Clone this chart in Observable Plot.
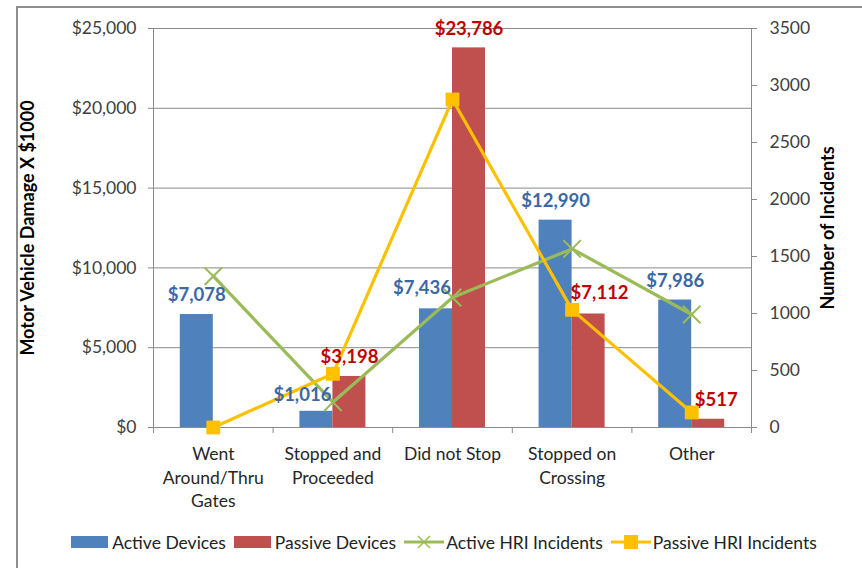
<!DOCTYPE html>
<html><head><meta charset="utf-8">
<script src="https://cdn.jsdelivr.net/npm/d3@7"></script>
<script src="https://cdn.jsdelivr.net/npm/@observablehq/plot@0.6"></script>
<style>
body{margin:0;background:#fff;font-family:Lato,"Open Sans",sans-serif;}
#frame{position:absolute;left:16px;top:6px;width:900px;height:600px;border:2px solid #8e8e8e;pointer-events:none;}
#chart{position:absolute;left:0;top:0;}
#legend{position:absolute;left:0;top:531px;width:862px;height:22px;display:flex;justify-content:center;align-items:center;font-size:17.5px;color:#222;padding-left:26px;box-sizing:border-box;}
.item{display:flex;align-items:center;margin:0 4px;}
.sw{display:inline-block;width:37px;height:12px;margin-right:4px;}
.item svg{margin-right:2px;}
</style></head>
<body>
<div id="chart"></div>
<div id="frame"></div>
<div id="legend"></div>
<script>
const categories = ["Went Around/Thru Gates", "Stopped and Proceeded", "Did not Stop", "Stopped on Crossing", "Other"];
const tickLabels = ["Went\nAround/Thru\nGates", "Stopped and\nProceeded", "Did not Stop", "Stopped on\nCrossing", "Other"];
const activeDamage = [7078, 1016, 7436, 12990, 7986];
const passiveDamage = [null, 3198, 23786, 7112, 517];
const activeIncidents = [1327, 222, 1140, 1567, 991];
const passiveIncidents = [0, 471, 2877, 1032, 132];
const leftTicks = [0, 5000, 10000, 15000, 20000, 25000];
const rightTicks = [0, 500, 1000, 1500, 2000, 2500, 3000, 3500];
const seriesNames = ["Active Devices", "Passive Devices", "Active HRI Incidents", "Passive HRI Incidents"];

const colors = {active:"#4F81BD", passive:"#C0504D", activeLine:"#9BBB59", passiveLine:"#FFC000", activeText:"#3B68A5", passiveText:"#C00000"};
// label nudges (layout only)
const activeNudge = [[0,0],[-14,3],[-14,-2],[0,0],[0,0]];
const passiveNudge = [[0,0],[0,0],[0,0],[11,-2],[8,0]];

const ratio = 25000 / 3500;
const bw = 0.276;
const data = categories.map((c, i) => ({
  i, cat: c, label: tickLabels[i],
  active: activeDamage[i], passive: passiveDamage[i],
  ai: activeIncidents[i] * ratio, pi: passiveIncidents[i] * ratio
}));
const fmt = d => "$" + d3.format(",")(d);
const grid = "#8a8a8a";

const labelMarks = [];
data.forEach((d, k) => {
  labelMarks.push(Plot.text([d], {x: d => d.i - bw/2, y: "active", text: d => fmt(d.active),
    dx: activeNudge[k][0], dy: -19 + activeNudge[k][1], lineAnchor: "middle", fontWeight: "bold", fontSize: 18.5, fill: colors.activeText}));
  if (d.passive != null) labelMarks.push(Plot.text([d], {x: d => d.i + bw/2, y: "passive", text: d => fmt(d.passive),
    dx: passiveNudge[k][0], dy: -19 + passiveNudge[k][1], lineAnchor: "middle", fontWeight: "bold", fontSize: 18.5, fill: colors.passiveText}));
});

const chart = Plot.plot({
  width: 862, height: 520,
  marginLeft: 153, marginRight: 111, marginTop: 28, marginBottom: 93,
  style: {fontFamily: "Lato, 'Open Sans', sans-serif", fontSize: "17.5px", background: "transparent"},
  x: {type: "linear", domain: [-0.5, 4.5]},
  y: {domain: [0, 25000]},
  marks: [
    Plot.ruleY(leftTicks.filter(v => v > 0), {stroke: grid, strokeWidth: 1}),
    Plot.rect(data, {x1: d => d.i - bw, x2: d => d.i, y1: 0, y2: "active", fill: colors.active}),
    Plot.rect(data.filter(d => d.passive != null), {x1: d => d.i, x2: d => d.i + bw, y1: 0, y2: "passive", fill: colors.passive}),
    Plot.ruleY([0], {stroke: grid}),
    Plot.ruleX([-0.5, 4.5], {y1: 0, y2: 25000, stroke: grid}),
    Plot.axisX({ticks: [-0.5, 0.5, 1.5, 2.5, 3.5, 4.5], tickSize: 6, tickFormat: () => "", stroke: grid, label: null}),
    Plot.axisY({anchor: "left", ticks: leftTicks, tickSize: 5, tickPadding: 12, tickFormat: fmt, stroke: grid, fill: "#404040", label: null}),
    Plot.axisY({anchor: "right", ticks: rightTicks.map(v => v * ratio), tickSize: 5, tickPadding: 13,
      tickFormat: d => String(Math.round(d / ratio)), stroke: grid, fill: "#404040", label: null}),
    Plot.text(data, {x: "i", y: 0, text: "label", dy: 16, lineAnchor: "top", lineHeight: 1.34, fontSize: 17.5, fill: "#262626"}),
    Plot.line(data, {x: "i", y: "ai", stroke: colors.activeLine, strokeWidth: 3.2}),
    Plot.dot(data, {x: "i", y: "ai", symbol: "times", stroke: colors.activeLine, r: 8, strokeWidth: 2}),
    Plot.line(data, {x: "i", y: "pi", stroke: colors.passiveLine, strokeWidth: 3.2}),
    Plot.dot(data, {x: "i", y: "pi", symbol: "square", fill: colors.passiveLine, r: 7.8}),
    ...labelMarks,
    Plot.text(["Motor Vehicle Damage X $1000"], {text: d => d, frameAnchor: "left", textAnchor: "middle", dx: -125, rotate: -90, fontWeight: "bold", fontSize: 18, fill: "#000"}),
    Plot.text(["Number of Incidents"], {text: d => d, frameAnchor: "right", textAnchor: "middle", dx: 77, rotate: -90, fontWeight: "bold", fontSize: 18, fill: "#000"})
  ]
});
document.getElementById("chart").appendChild(chart);

const legend = document.getElementById("legend");
const swatches = [
  `<span class="sw" style="background:${colors.active}"></span>`,
  `<span class="sw" style="background:${colors.passive}"></span>`,
  `<svg width="40" height="16"><line x1="0" y1="8" x2="40" y2="8" stroke="${colors.activeLine}" stroke-width="3"/><path d="M14,2L26,14M26,2L14,14" stroke="${colors.activeLine}" stroke-width="1.5"/></svg>`,
  `<svg width="40" height="16"><line x1="0" y1="8" x2="40" y2="8" stroke="${colors.passiveLine}" stroke-width="3"/><rect x="13" y="1" width="14" height="14" fill="${colors.passiveLine}"/></svg>`
];
legend.innerHTML = seriesNames.map((n, k) => `<span class="item">${swatches[k]}<span>${n}</span></span>`).join("");
</script>
</body></html>
